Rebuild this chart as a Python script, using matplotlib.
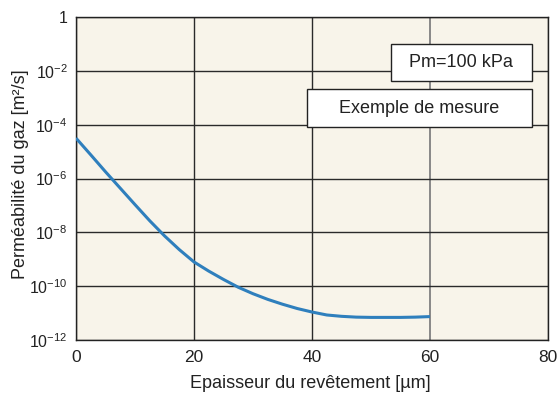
import matplotlib
matplotlib.use("Agg")
import matplotlib.pyplot as plt
from matplotlib.patches import Rectangle
import numpy as np

# Data
thickness_um = [0, 2.5, 5, 7.5, 10, 12.5, 15, 17.5, 20, 22.5, 25, 27.5, 30, 32.5,
                35, 37.5, 40, 42.5, 45, 47.5, 50, 52.5, 55, 57.5, 60]
log_permeability = [-4.50, -5.12, -5.75, -6.36, -6.97, -7.57, -8.13, -8.64, -9.10,
                    -9.44, -9.75, -10.04, -10.28, -10.49, -10.67, -10.83, -10.96,
                    -11.07, -11.12, -11.15, -11.16, -11.16, -11.16, -11.15, -11.13]
permeability = [10 ** v for v in log_permeability]

x_ticks = [0, 20, 40, 60, 80]
y_ticks = [1, 1e-2, 1e-4, 1e-6, 1e-8, 1e-10, 1e-12]
y_tick_labels = ["1", "10$^{-2}$", "10$^{-4}$", "10$^{-6}$", "10$^{-8}$",
                 "10$^{-10}$", "10$^{-12}$"]
x_label = "Epaisseur du revêtement [µm]"
y_label = "Perméabilité du gaz [m²/s]"
box1_text = "Pm=100 kPa"
box2_text = "Exemple de mesure"

plt.rcParams['font.family'] = ['Liberation Sans', 'DejaVu Sans']
plt.rcParams['mathtext.default'] = 'regular'
plt.rcParams['mathtext.fontset'] = 'custom'
plt.rcParams['mathtext.rm'] = 'Liberation Sans'
plt.rcParams['mathtext.it'] = 'Liberation Sans'
plt.rcParams['mathtext.bf'] = 'Liberation Sans'

fig = plt.figure(figsize=(5.58, 4.01), dpi=100)
ax = fig.add_axes([0.1362, 0.1521, 0.8458, 0.8055])
ax.set_facecolor('#f8f4ea')

ax.plot(thickness_um, permeability, color='#2f7fbd', linewidth=2.2, solid_capstyle='butt', zorder=3)

ax.set_yscale('log')
ax.set_xlim(0, 80)
ax.set_ylim(1e-12, 1)
ax.set_xticks(x_ticks)
ax.set_xticklabels([str(t) for t in x_ticks])
ax.set_yticks(y_ticks)
ax.set_yticklabels(y_tick_labels)
ax.minorticks_off()
ax.tick_params(axis='x', length=0, labelsize=12.5, colors='#222222', pad=7)
ax.tick_params(axis='y', length=0, labelsize=11.5, colors='#222222', pad=6)

ax.grid(True, color='#2a2a2a', linewidth=1.0, zorder=1)
xg = ax.get_xgridlines()
if len(xg) >= 4:
    xg[3].set_color('#888888')
    xg[3].set_linewidth(1.4)
ax.set_axisbelow(True)
for s in ax.spines.values():
    s.set_color('#222222')
    s.set_linewidth(1.0)

ax.set_xlabel(x_label, fontsize=13, color='#222222')
ax.set_ylabel(y_label, fontsize=13, color='#222222')
ax.xaxis.set_label_coords(0.496, -0.108)
ax.yaxis.set_label_coords(-0.099, 0.514)

# text boxes
for (x0, x1, y0, y1, txt) in [(0.667, 0.966, 0.802, 0.916, box1_text),
                              (0.489, 0.966, 0.659, 0.777, box2_text)]:
    r = Rectangle((x0, y0), x1 - x0, y1 - y0, transform=ax.transAxes,
                  facecolor='white', edgecolor='#222222', linewidth=1.0, zorder=4)
    ax.add_patch(r)
    ax.text((x0 + x1) / 2, (y0 + y1) / 2, txt, transform=ax.transAxes,
            ha='center', va='center', fontsize=13, color='#222222', zorder=5)

fig.savefig("out.png", dpi=100, facecolor='white')
